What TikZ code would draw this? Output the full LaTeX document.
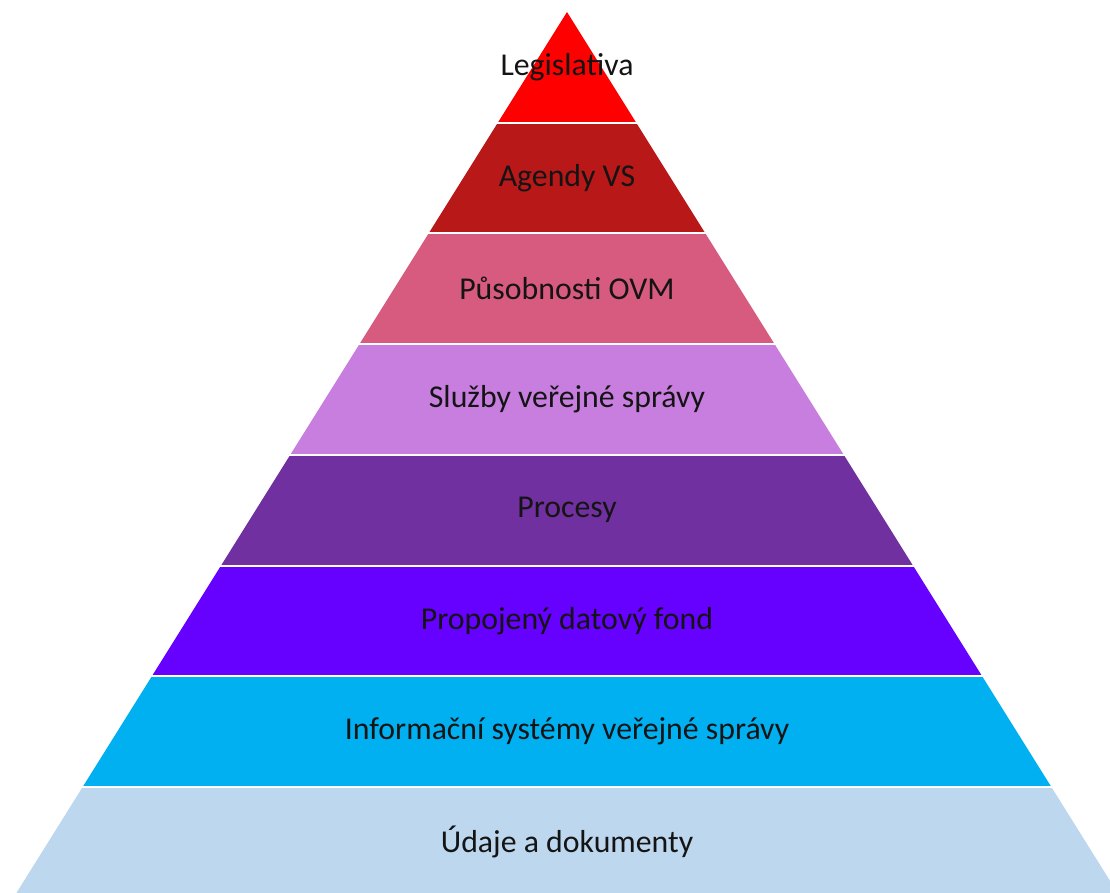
\documentclass[tikz,border=0pt]{standalone}
\usepackage{fontspec}
\setmainfont{Carlito}
\definecolor{cLeg}{HTML}{FF0000}
\definecolor{cAge}{HTML}{B81818}
\definecolor{cPus}{HTML}{D75A7F}
\definecolor{cSlu}{HTML}{C77EDF}
\definecolor{cPro}{HTML}{7030A0}
\definecolor{cPdf}{HTML}{6600FF}
\definecolor{cIsv}{HTML}{00B0F0}
\definecolor{cUda}{HTML}{BDD7EE}
\definecolor{txt}{HTML}{141414}
\begin{document}
\begin{tikzpicture}[x=1pt,y=-1pt,
  band/.style={fill=#1},
  gap/.style={draw=white,line width=2pt},
  lbl/.style={font=\fontsize{31.8}{36}\selectfont,text=txt,inner sep=0pt}]
\useasboundingbox (0,0) rectangle (1110,892);
\clip (0,0) rectangle (1110,892);
% apex at (567,12), each band 110.7 high, sides spread 0.625 per unit of height
\foreach \i/\col in {0/cLeg,1/cAge,2/cPus,3/cSlu,4/cPro,5/cPdf,6/cIsv,7/cUda} {
  \pgfmathsetmacro\yt{12+\i*110.7}
  \pgfmathsetmacro\yb{\yt+110.7}
  \pgfmathsetmacro\ht{0.625*(\yt-12)}
  \pgfmathsetmacro\hb{0.625*(\yb-12)}
  \fill[band=\col] ({567-\ht},\yt) -- ({567+\ht},\yt) -- ({567+\hb},\yb) -- ({567-\hb},\yb) -- cycle;
}
% white seams between the bands
\foreach \i in {1,...,7} {
  \pgfmathsetmacro\y{12+\i*110.7}
  \draw[gap] (0,\y) -- (1110,\y);
}
% band labels
\foreach \i/\name/\txt in {
  0/leg/Legislativa,
  1/age/Agendy VS,
  2/pus/Působnosti OVM,
  3/slu/Služby veřejné správy,
  4/pro/Procesy,
  5/pdf/Propojený datový fond,
  6/isv/Informační systémy veřejné správy,
  7/uda/Údaje a dokumenty} {
  \pgfmathsetmacro\yc{12+(\i+0.5)*110.7}
  \node[lbl] (\name) at (567,\yc) {\txt};
}
\end{tikzpicture}
\end{document}
